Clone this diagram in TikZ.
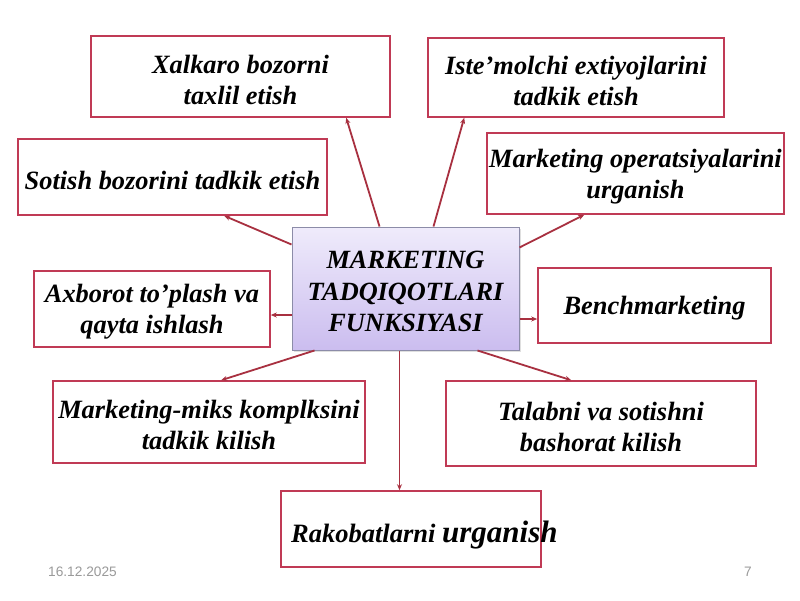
\documentclass[tikz,border=0pt]{standalone}
\usepackage{fontspec}
\setmainfont{Liberation Serif}
\newfontfamily\footfont{Liberation Sans}
\usetikzlibrary{arrows.meta,shadows}
\definecolor{boxred}{HTML}{C03A55}
\definecolor{linered}{HTML}{A83040}
\definecolor{ctop}{HTML}{EFEBFB}
\definecolor{cbot}{HTML}{CBBDEF}
\definecolor{cborder}{HTML}{8C8CA8}
\definecolor{footgray}{HTML}{9A9A9A}
\tikzset{
  fbox/.style={draw=boxred, line width=1.6pt, fill=white, inner sep=0pt},
  ftext/.style={inner sep=0pt, align=center, yshift=-3pt,
    font=\fontsize{26.4}{31}\selectfont\bfseries\itshape},
  cbox/.style={draw=cborder, line width=1pt, top color=ctop, bottom color=cbot,
    inner sep=0pt, drop shadow={opacity=0.25,shadow xshift=2pt,shadow yshift=-2pt}},
  ctext/.style={inner sep=0pt, align=center, yshift=-3pt,
    font=\fontsize{26.3}{31.5}\selectfont\bfseries\itshape},
  conn/.style={draw=linered, line width=1.8pt, -{Stealth[length=6pt,width=5pt]}},
  foot/.style={font=\footfont\fontsize{13.7}{15}\selectfont, text=footgray, inner sep=0pt}
}
\begin{document}
\begin{tikzpicture}[x=1pt,y=-1pt]
\useasboundingbox (0,0) rectangle (800,600);
\fill[white] (0,0) rectangle (800,600);

\node[fbox, minimum width=299pt, minimum height=81pt] (b1) at (240.5,76.5) {};
\node[ftext] (t1) at (b1.center) {Xalkaro bozorni\\taxlil etish};
\node[fbox, minimum width=296pt, minimum height=79pt] (b2) at (576,77.5) {};
\node[ftext] (t2) at (b2.center) {Iste’molchi extiyojlarini\\tadkik etish};
\node[fbox, minimum width=309pt, minimum height=76pt] (b3) at (172.5,177) {};
\node[ftext] (t3) at (b3.center) {Sotish bozorini tadkik etish};
\node[fbox, minimum width=297pt, minimum height=81pt] (b4) at (635.5,173.5) {};
\node[ftext] (t4) at (b4.center) {Marketing operatsiyalarini\\urganish};
\node[cbox, minimum width=227pt, minimum height=123pt] (c) at (405.5,288.5) {};
\node[ctext] (tc) at (c.center) {MARKETING\\TADQIQOTLARI\\FUNKSIYASI};
\node[fbox, minimum width=236pt, minimum height=76pt] (b5) at (152,309) {};
\node[ftext] (t5) at (b5.center) {Axborot to’plash va\\qayta ishlash};
\node[fbox, minimum width=233pt, minimum height=75pt] (b6) at (654.5,305.5) {};
\node[ftext] (t6) at (b6.center) {Benchmarketing};
\node[fbox, minimum width=312pt, minimum height=82pt] (b7) at (209,422) {};
\node[ftext] (t7) at (b7.center) {Marketing-miks komplksini\\tadkik kilish};
\node[fbox, minimum width=310pt, minimum height=85pt] (b8) at (601,423.5) {};
\node[ftext] (t8) at (b8.center) {Talabni va sotishni\\bashorat kilish};
\node[fbox, minimum width=260pt, minimum height=76pt] (b9) at (411,529) {};
\node[font=\bfseries\itshape, inner sep=0pt, anchor=base west] (t9) at (291,542)
  {\fontsize{26.5}{30}\selectfont Rakobatlarni \fontsize{31}{34}\selectfont urganish};

\draw[conn] ([xshift=88pt]c.north west) -- ([xshift=256pt]b1.south west);
\draw[conn] ([xshift=142pt]c.north west) -- ([xshift=37pt]b2.south west);
\draw[conn] ([yshift=-18pt]c.north west) -- ([xshift=207pt]b3.south west);
\draw[conn] ([yshift=-21pt]c.north east) -- ([xshift=98pt]b4.south west);
\coordinate (p5) at ([yshift=-26.5pt]c.west);
\draw[conn] (p5) -- (p5 -| b5.east);
\coordinate (p6) at ([yshift=-30.5pt]c.east);
\draw[conn] (p6) -- (p6 -| b6.west);
\draw[conn] ([xshift=23pt]c.south west) -- ([xshift=169pt]b7.north west);
\draw[conn] ([xshift=186pt]c.south west) -- ([xshift=126pt]b8.north west);
\coordinate (p9) at ([xshift=108pt]c.south west);
\draw[conn] (p9) -- (p9 |- b9.north);

\node[foot, anchor=west] (date) at (48,571.5) {16.12.2025};
\node[foot] (page) at (748,571.5) {7};
\end{tikzpicture}
\end{document}
